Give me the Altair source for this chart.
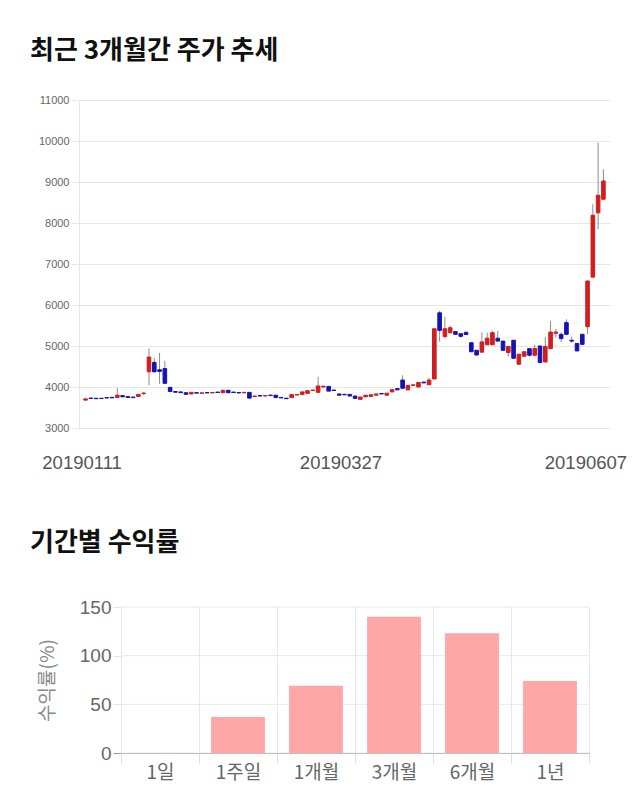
import altair as alt
import pandas as pd

# ---- candlestick data (daily, 2019-01-11 .. 2019-06-07) ----
date_labels = ["20190111", "20190327", "20190607"]
date_pos = [0, 49, 98]

open_ = [3680, 3730, 3725, 3725, 3742, 3748, 3745, 3790, 3765, 3755,
         3770, 3840, 4370, 4600, 4420, 4450, 3990, 3890, 3880, 3860,
         3830, 3862, 3845, 3866, 3855, 3876, 3860, 3920, 3876, 3866,
         3858, 3870, 3765, 3792, 3780, 3802, 3800, 3746, 3727, 3740,
         3805, 3815, 3845, 3914, 3870, 4002, 4015, 3926, 3830, 3822,
         3820, 3780, 3700, 3760, 3770, 3800, 3842, 3800, 3880, 3960,
         4170, 3930, 4040, 4000, 4120, 4055, 4195, 5810, 5230, 5325,
         5350, 5300, 5335, 5080, 4895, 4850, 5030, 5030, 5190, 5120,
         4840, 5140, 4555, 4750, 4935, 4775, 5000, 4610, 4935, 5310,
         5285, 5570, 5140, 5060, 5285, 5470, 6680, 8250, 8580]
close_ = [3710, 3720, 3715, 3718, 3732, 3736, 3800, 3760, 3745, 3740,
          3820, 3852, 4730, 4370, 4380, 4090, 3890, 3872, 3862, 3822,
          3870, 3850, 3857, 3855, 3866, 3865, 3920, 3860, 3865, 3855,
          3870, 3730, 3780, 3780, 3792, 3790, 3742, 3734, 3715, 3815,
          3816, 3880, 3910, 3926, 4025, 4020, 3900, 3914, 3800, 3810,
          3780, 3722, 3755, 3800, 3810, 3830, 3830, 3850, 3935, 3930,
          3970, 4040, 4052, 4110, 4100, 4170, 5420, 5380, 5420, 5445,
          5285, 5235, 5280, 4860, 4780, 5100, 5190, 5325, 5120, 4895,
          4990, 4700, 4800, 4860, 4775, 4940, 4595, 4990, 5340, 5340,
          5180, 5285, 5120, 4880, 5040, 6585, 8190, 8675, 9025]
high_ = [3720, 3735, 3730, 3730, 3745, 3750, 3975, 3795, 3770, 3760,
         3830, 3880, 4940, 4700, 4830, 4640, 4000, 3895, 3885, 3865,
         3875, 3865, 3860, 3870, 3870, 3880, 3925, 3925, 3880, 3870,
         3875, 3875, 3785, 3795, 3795, 3805, 3805, 3750, 3730, 3820,
         3820, 3885, 3915, 3930, 4250, 4030, 4020, 3930, 3835, 3825,
         3825, 3785, 3760, 3805, 3815, 3835, 3845, 3855, 3940, 3965,
         4285, 4045, 4055, 4115, 4125, 4230, 5430, 5860, 5710, 5500,
         5355, 5305, 5340, 5085, 4900, 5330, 5330, 5370, 5370, 5125,
         4995, 5145, 4805, 4865, 4940, 5030, 5005, 5220, 5610, 5420,
         5330, 5650, 5230, 5065, 5300, 6600, 8460, 9960, 9310]
low_ = [3670, 3715, 3710, 3712, 3728, 3730, 3740, 3755, 3740, 3735,
        3765, 3800, 4040, 4360, 4080, 4080, 3870, 3865, 3855, 3815,
        3825, 3845, 3840, 3850, 3850, 3860, 3855, 3855, 3860, 3850,
        3855, 3710, 3760, 3775, 3775, 3785, 3735, 3730, 3710, 3735,
        3800, 3810, 3840, 3910, 3860, 3980, 3895, 3910, 3795, 3805,
        3775, 3715, 3695, 3755, 3765, 3795, 3825, 3795, 3875, 3925,
        3950, 3920, 4035, 3995, 4095, 4050, 4190, 5105, 5180, 5300,
        5280, 5200, 5275, 4855, 4775, 4830, 5020, 5020, 5110, 4890,
        4740, 4690, 4550, 4745, 4740, 4770, 4590, 4605, 4930, 5200,
        5090, 5280, 5080, 4875, 5035, 5290, 6675, 7850, 8575]

# ---- period returns ----
periods = ["1일", "1주일", "1개월", "3개월", "6개월", "1년"]
returns = [0, 37, 69, 140, 123, 74]
ret_ticks = [0, 50, 100, 150]

candles = pd.DataFrame({
    "i": list(range(len(open_))),
    "open": open_, "close": close_, "high": high_, "low": low_,
})
candles["dir"] = ["up" if c >= o else "down" for o, c in zip(open_, close_)]

bars = pd.DataFrame({"period": periods, "ret": returns})
grid_df = pd.DataFrame({"ret": ret_ticks})

label_expr = ""
for p, d in zip(date_pos[:-1], date_labels[:-1]):
    label_expr += f"datum.value == {p} ? '{d}' : "
label_expr += f"'{date_labels[-1]}'"

KR = "Noto Sans CJK KR"
NUM = "Liberation Sans"

# ---------------- candlestick chart ----------------
xsc = alt.Scale(domain=[-0.3, 98.3], nice=False, zero=False)
ysc = alt.Scale(domain=[3000, 11000], nice=False, zero=False)

x_enc = alt.X("i:Q", scale=xsc, title=None, axis=alt.Axis(
    values=date_pos, labelExpr=label_expr, labelFontSize=18.5, labelColor="#555",
    labelFont=NUM, domain=False, ticks=False, grid=False, labelPadding=25,
    labelOverlap=False,
    labelOffset={"condition": {"test": f"datum.value == {date_pos[-1]}", "value": -18}, "value": -4},
))
y_axis = alt.Axis(values=list(range(3000, 11001, 1000)), format="d", labelFontSize=11,
                  labelColor="#666", labelFont=NUM, gridColor="#e6e6e6",
                  domainColor="#e6e6e6", tickColor="#e6e6e6", tickSize=8,
                  labelPadding=2, minExtent=49, maxExtent=49, title=None)

wicks = alt.Chart(candles).mark_rule(color="#8c8c8c", strokeWidth=1).encode(
    x=x_enc,
    y=alt.Y("low:Q", scale=ysc, axis=y_axis),
    y2="high:Q",
)
col_scale = alt.Scale(domain=["up", "down"], range=["#d01e1e", "#1414b4"])
bodies = alt.Chart(candles).mark_bar(size=3.6, strokeWidth=1).encode(
    x=alt.X("i:Q", scale=xsc),
    y=alt.Y("open:Q", scale=ysc),
    y2="close:Q",
    color=alt.Color("dir:N", scale=col_scale, legend=None),
    stroke=alt.Stroke("dir:N", scale=col_scale, legend=None),
)

top = alt.layer(wicks, bodies).properties(
    width=531, height=328,
    title=alt.TitleParams("최근 3개월간 주가 추세", anchor="start", frame="group", dx=-49,
                          offset=9, fontSize=26, font=KR, fontWeight="bold",
                          color="#111", baseline="alphabetic"),
)

# ---------------- returns bar chart ----------------
bx = alt.Scale(range=[42, 510], paddingInner=0, paddingOuter=0)
by = alt.Scale(domain=[0, 150], nice=False)
by_axis = alt.Axis(values=ret_ticks, grid=False, domain=False, offset=-42,
                   tickSize=8,
                   tickColor={"condition": {"test": "datum.value == 0", "value": "#999"},
                              "value": "#e6e6e6"},
                   labelPadding=2, labelFontSize=19, labelColor="#666", labelFont=NUM,
                   title="수익률(%)", titleFont=KR, titleFontSize=19,
                   titleColor="#888", titleFontWeight="normal",
                   titleX=-74, titleY=73, titleBaseline="middle")

grid = alt.Chart(grid_df).mark_rule(color="#e8e8e8", strokeWidth=1).encode(
    y=alt.Y("ret:Q", scale=by, axis=by_axis),
    x=alt.value(42), x2=alt.value(510),
)
bar_marks = alt.Chart(bars).mark_bar(
    color="#ffa6a6", width=alt.RelativeBandSize(0.69)
).encode(
    x=alt.X("period:N", sort=periods, scale=bx, title=None,
            axis=alt.Axis(tickBand="extent", grid=True, gridColor="#e8e8e8",
                          tickColor="#e0e0e0", tickSize=10, labelPadding=0,
                          labelFontSize=19, labelColor="#666", labelFont=KR,
                          labelAngle=0, domainColor="#999")),
    y=alt.Y("ret:Q", scale=by, axis=by_axis),
)

bottom = alt.layer(grid, bar_marks).properties(
    width=510, height=146,
    title=alt.TitleParams("기간별 수익률", anchor="start", frame="group", dx=-49,
                          offset=21, fontSize=26, font=KR, fontWeight="bold",
                          color="#111", baseline="alphabetic"),
)

chart = alt.vconcat(top, bottom, spacing=58).properties(
    padding={"left": 30, "top": 38, "right": 0, "bottom": 0}
).configure_view(stroke=None)

chart.save("out.html", embed_options={"renderer": "svg", "actions": False})
